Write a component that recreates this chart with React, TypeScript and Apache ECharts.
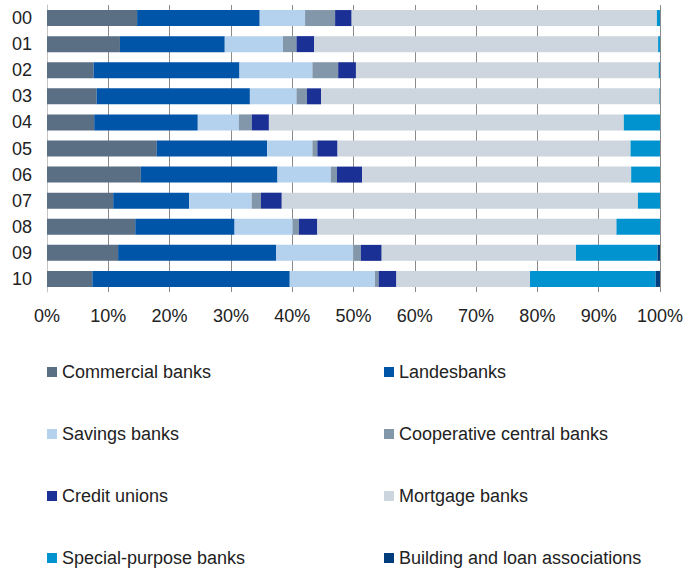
import React, { useEffect, useRef } from "react";
import * as echarts from "echarts";

const categories = ["00", "01", "02", "03", "04", "05", "06", "07", "08", "09", "10"];
const xTicks = [0, 10, 20, 30, 40, 50, 60, 70, 80, 90, 100];

const commercialBanks = [14.7, 11.9, 7.6, 8.1, 7.7, 17.9, 15.3, 10.8, 14.4, 11.6, 7.4];
const landesbanks = [20.0, 17.1, 23.8, 25.0, 16.9, 18.0, 22.3, 12.4, 16.2, 25.8, 32.2];
const savingsBanks = [7.4, 9.5, 11.9, 7.6, 6.7, 7.4, 8.7, 10.2, 9.5, 12.6, 13.9];
const cooperativeCentralBanks = [4.9, 2.2, 4.2, 1.7, 2.1, 0.8, 1.0, 1.5, 1.0, 1.2, 0.6];
const creditUnions = [2.7, 2.9, 2.9, 2.3, 2.8, 3.3, 4.1, 3.4, 3.0, 3.4, 2.9];
const mortgageBanks = [49.8, 56.1, 49.4, 55.2, 57.9, 47.8, 43.9, 58.1, 48.8, 31.7, 21.8];
const specialPurposeBanks = [0.5, 0.3, 0.2, 0.1, 5.9, 4.8, 4.7, 3.6, 7.1, 13.3, 20.5];
const buildingAndLoan = [0, 0, 0, 0, 0, 0, 0, 0, 0, 0.4, 0.7];

const seriesDefs = [
  { name: "Commercial banks", data: commercialBanks, color: "#5a6e84" },
  { name: "Landesbanks", data: landesbanks, color: "#0055a8" },
  { name: "Savings banks", data: savingsBanks, color: "#b4d1ee" },
  { name: "Cooperative central banks", data: cooperativeCentralBanks, color: "#8397ab" },
  { name: "Credit unions", data: creditUnions, color: "#1b3094" },
  { name: "Mortgage banks", data: mortgageBanks, color: "#cdd6de" },
  { name: "Special-purpose banks", data: specialPurposeBanks, color: "#0093d0" },
  { name: "Building and loan associations", data: buildingAndLoan, color: "#003d7c" },
];

const leftLegend = ["Commercial banks", "Savings banks", "Credit unions", "Special-purpose banks"];
const rightLegend = ["Landesbanks", "Cooperative central banks", "Mortgage banks", "Building and loan associations"];

const FONT = "'Liberation Sans', Arial, sans-serif";

export default function App() {
  const ref = useRef<HTMLDivElement>(null);
  useEffect(() => {
    document.body.style.margin = "0";
    if (!ref.current) return;
    const chart = echarts.init(ref.current, null, { renderer: "svg" });
    const legendCommon = {
      orient: "vertical" as const,
      top: 363,
      height: 205,
      padding: 0,
      itemWidth: 10,
      itemHeight: 10,
      itemGap: 44,
      icon: "rect",
      textStyle: { fontSize: 18, lineHeight: 18, color: "#222", fontFamily: FONT },
    };
    chart.setOption({
      animation: false,
      backgroundColor: "#ffffff",
      grid: { left: 47, right: 26, top: 5, bottom: 277, containLabel: false },
      legend: [
        { ...legendCommon, left: 47, data: leftLegend },
        { ...legendCommon, left: 384, data: rightLegend },
      ],
      xAxis: {
        type: "value",
        min: xTicks[0],
        max: xTicks[xTicks.length - 1],
        interval: 10,
        axisLine: { show: false },
        axisTick: { show: false },
        splitLine: { show: true, lineStyle: { color: "#8a8a8a", width: 1 } },
        axisLabel: {
          formatter: "{value}%",
          fontSize: 18,
          color: "#222",
          fontFamily: FONT,
          margin: 15,
        },
      },
      yAxis: {
        type: "category",
        data: categories,
        inverse: true,
        axisLine: { show: true, lineStyle: { color: "#c4c4c4", width: 1 } },
        axisTick: { show: false },
        axisLabel: { fontSize: 18, color: "#222", fontFamily: FONT, margin: 15 },
      },
      series: seriesDefs.map((s) => ({
        name: s.name,
        type: "bar",
        stack: "total",
        barWidth: 16,
        data: s.data,
        itemStyle: { color: s.color },
        emphasis: { disabled: true },
      })),
    });
    return () => chart.dispose();
  }, []);
  return <div ref={ref} style={{ width: 686, height: 569 }} />;
}
